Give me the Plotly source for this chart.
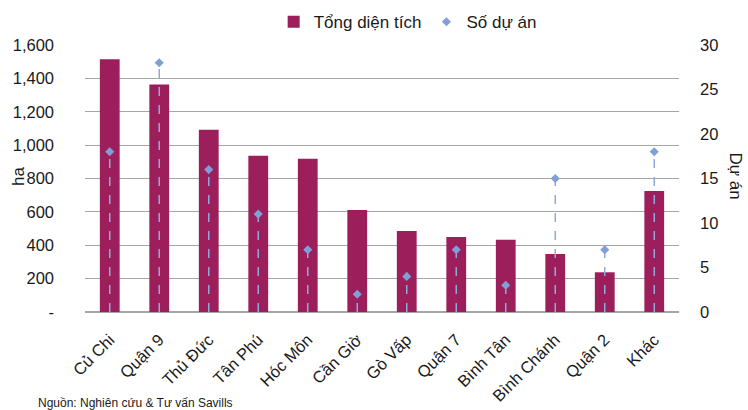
import plotly.graph_objects as go

categories = ["Củ Chi", "Quận 9", "Thủ Đức", "Tân Phú", "Hóc Môn", "Cần Giờ",
              "Gò Vấp", "Quận 7", "Bình Tân", "Bình Chánh", "Quận 2", "Khác"]
area_ha = [1514, 1364, 1092, 937, 919, 611, 485, 449, 433, 348, 238, 725]
projects = [18, 28, 16, 11, 7, 2, 4, 7, 3, 15, 7, 18]

left_ticks = [0, 200, 400, 600, 800, 1000, 1200, 1400, 1600]
left_labels = ["-", "200", "400", "600", "800", "1,000", "1,200", "1,400", "1,600"]
right_ticks = [0, 5, 10, 15, 20, 25, 30]

BAR = "#9c1f5c"
PT = "#7f9fd6"
LINE = "#8eaadd"
FONT = "Liberation Sans, Arial, sans-serif"
TXT = "#1a1a1a"

# drop lines built from the data
dx, dy = [], []
for c, v in zip(categories, projects):
    dx += [c, c, None]
    dy += [0, v, None]

fig = go.Figure()
fig.add_trace(go.Bar(x=categories, y=area_ha, name="Tổng diện tích",
                     marker=dict(color=BAR, line=dict(width=0)), yaxis="y"))
fig.add_trace(go.Scatter(x=dx, y=dy, mode="lines", yaxis="y2", showlegend=False,
                         line=dict(color=LINE, width=1.5, dash="dash"), hoverinfo="skip"))
fig.add_trace(go.Scatter(x=categories, y=projects, mode="markers", name="Số dự án",
                         yaxis="y2",
                         marker=dict(symbol="diamond", size=7, color=PT)))

fig.update_layout(
    width=748, height=410,
    margin=dict(l=85, r=69, t=45, b=98, autoexpand=False),
    paper_bgcolor="white", plot_bgcolor="white",
    font=dict(family=FONT, size=16, color=TXT),
    bargap=0.6,
    showlegend=True,
    legend=dict(orientation="h", xref="container", yref="container",
                x=0.545, xanchor="center", y=0.946, yanchor="middle",
                font=dict(size=17, color=TXT), itemwidth=30, traceorder="normal",
                bgcolor="rgba(0,0,0,0)"),
    xaxis=dict(type="category", categoryorder="array", categoryarray=categories,
               range=[-0.5, len(categories) - 0.5],
               tickangle=-45, showgrid=False, ticks="",
               showline=False, tickfont=dict(size=16.5), automargin=False,
               ticklabelstandoff=14),
    yaxis=dict(range=[0, 1600], tickvals=left_ticks, ticktext=left_labels,
               showgrid=True, gridcolor="#a6a6a6", gridwidth=1,
               zeroline=True, zerolinecolor="#a6a6a6", zerolinewidth=2,
               showline=False, ticks="", tickfont=dict(size=16.5),
               ticklabelstandoff=30, automargin=False),
    yaxis2=dict(range=[0, 30], tickvals=right_ticks, overlaying="y", side="right",
                showgrid=False, zeroline=False, showline=False, ticks="",
                tickfont=dict(size=16.5), ticklabelstandoff=20,
                automargin=False),
    annotations=[
        dict(text="ha", xref="paper", yref="paper", x=-0.113, y=0.509,
             xanchor="center", yanchor="middle", textangle=-90, showarrow=False,
             font=dict(size=17, color=TXT)),
        dict(text="Dự án", xref="paper", yref="paper", x=1.095, y=0.51,
             xanchor="center", yanchor="middle", textangle=90, showarrow=False,
             font=dict(size=17, color=TXT)),
        dict(text="Nguồn: Nghiên cứu & Tư vấn Savills", xref="paper", yref="paper",
             x=-0.082, y=-0.307, xanchor="left", yanchor="top", showarrow=False,
             font=dict(size=12, color=TXT)),
    ],
)

fig.write_html("out.html", config={"displayModeBar": False},
               post_script="document.body.style.margin='0';document.body.style.overflow='hidden';")
